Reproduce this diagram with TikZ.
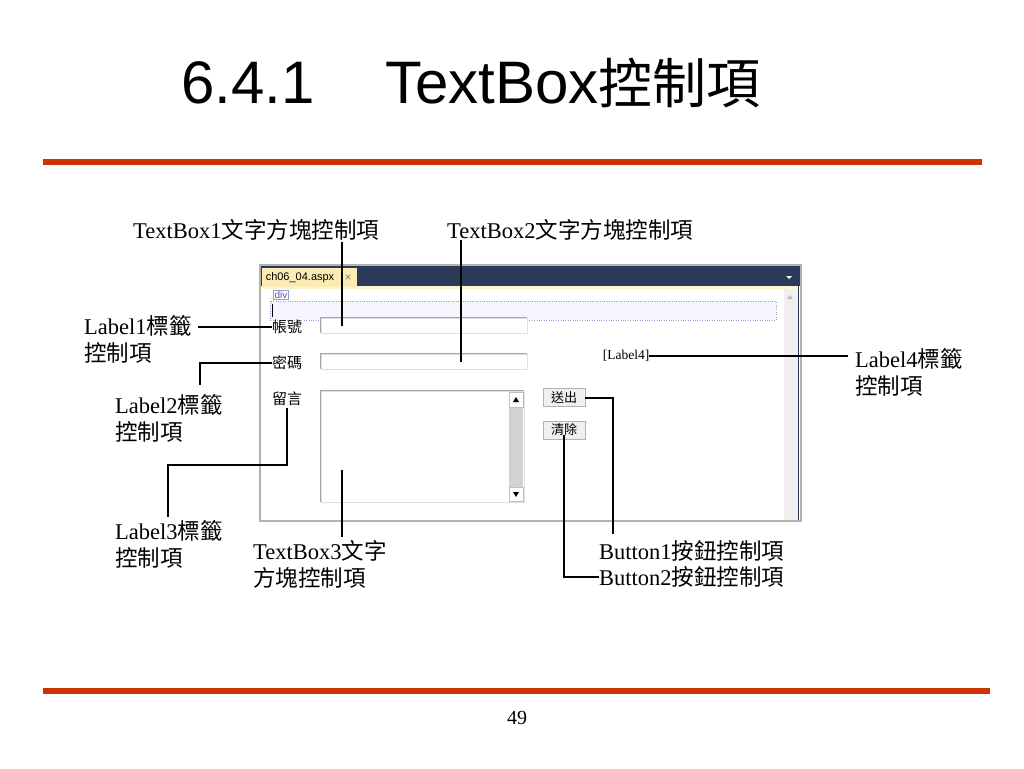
\documentclass[tikz,border=0pt]{standalone}
\usepackage{fontspec}
\usepackage{tikz}
\setmainfont{Liberation Serif}
\newfontfamily\hei{Liberation Sans}
\newfontfamily\cjk{Noto Sans CJK TC}
\newfontfamily\cjkt[Scale=0.9]{Noto Sans CJK TC}
\newcommand\zh[1]{{\cjk #1}}
\definecolor{slidered}{RGB}{204,51,0}
\definecolor{vsnavy}{RGB}{43,58,88}
\definecolor{tabyellow}{RGB}{252,236,180}
\definecolor{divblue}{RGB}{140,160,215}

\begin{document}
\begin{tikzpicture}[x=1pt,y=-1pt,
  callout/.style={font=\fontsize{22.5}{27}\selectfont, inner sep=0pt, align=left, anchor=north west},
  link/.style={line width=2pt},
  uitext/.style={font=\cjk\fontsize{15}{15}\selectfont, inner sep=0pt},
  field/.style={draw=gray!25, fill=white, inner sep=0pt},
  btn/.style={draw=gray!60, fill=gray!12, minimum width=42pt, minimum height=18pt, inner sep=0pt, font=\cjk\fontsize{13}{13}\selectfont}]
\useasboundingbox (0,0) rectangle (1024,768);

% title and rules
\node[anchor=base west, font=\hei\fontsize{60}{60}\selectfont, inner sep=0pt] (num) at (181,103) {6.4.1};
\node[anchor=base west, font=\hei\fontsize{60}{60}\selectfont, inner sep=0pt] (title) at (385,103) {TextBox{\cjkt 控制項}};
\fill[slidered] (43,159) rectangle (982,165);
\fill[slidered] (43,688) rectangle (990,694);
\node[font=\fontsize{20}{20}\selectfont] (page) at (517,718) {49};

% window
\fill[white] (261,266) rectangle (800,520);
\fill[vsnavy] (261,265) rectangle (800,286);
\fill[tabyellow!60] (261,286) rectangle (798,289);
\fill[gray!12] (784,289) rectangle (798,520);
\draw[gray!60, line width=1.5pt] (260,265) rectangle (801,521);
\draw[vsnavy, line width=1.5pt] (798.5,286) -- (798.5,520);
\fill[tabyellow] (262,268) rectangle (357,287);
\node[font=\hei\fontsize{11}{11}\selectfont, inner sep=0pt] (tab) at (300,278) {ch06\_04.aspx};
\node[font=\hei\fontsize{12}{12}\selectfont, text=gray, inner sep=0pt] (tabx) at (348,278) {×};
\fill[white] (786,276) -- (792,276) -- (789,279) -- cycle;
\fill[gray!50] (787,299) -- (793,299) -- (790,295) -- cycle;
\node[draw=divblue, fill=white, font=\hei\fontsize{10}{10}\selectfont, text=gray!70!blue, inner sep=1pt] (div) at (281,295) {div};
\draw[divblue, dotted, fill=blue!4] (270,301) rectangle (776,320);
\draw (272.5,304) -- (272.5,317);

% form
\node[uitext] (zh1) at (287,327) {帳號};
\node[uitext] (zh2) at (287,363) {密碼};
\node[uitext] (zh3) at (287,399) {留言};
\node[field, minimum width=206pt, minimum height=15pt] (tbx1) at (424,325.5) {};
\draw[gray!70, line width=1.2pt] (tbx1.south west) |- (tbx1.north east);
\node[field, minimum width=206pt, minimum height=15pt] (tbx2) at (424,361.5) {};
\draw[gray!70, line width=1.2pt] (tbx2.south west) |- (tbx2.north east);
\node[field, minimum width=203pt, minimum height=111pt] (tbx3) at (422.5,446.5) {};
\draw[gray!70, line width=1.2pt] (tbx3.south west) |- (tbx3.north east);
\fill[gray!35] (509,407) rectangle (523,487);
\draw[gray!50, fill=white] (509,392) rectangle (523,407);
\draw[gray!50, fill=white] (509,487) rectangle (523,501);
\fill (513,402) -- (519,402) -- (516,397) -- cycle;
\fill (513,492) -- (519,492) -- (516,497) -- cycle;
\node[btn] (btn1) at (564,397.5) {送出};
\node[btn] (btn2) at (564,430) {清除};
\node[font=\fontsize{13.5}{13.5}\selectfont, inner sep=0pt] (lbl4) at (626,356) {[Label4]};

% callouts
\node[callout] (lab1) at (84,315) {Label1\zh{標籤}\\\zh{控制項}};
\node[callout] (lab2) at (115,394) {Label2\zh{標籤}\\\zh{控制項}};
\node[callout] (lab3) at (115,520) {Label3\zh{標籤}\\\zh{控制項}};
\node[callout] (lab4) at (855,348) {Label4\zh{標籤}\\\zh{控制項}};
\node[callout] (tb1lab) at (133,219) {TextBox1\zh{文字方塊控制項}};
\node[callout] (tb2lab) at (447,219) {TextBox2\zh{文字方塊控制項}};
\node[callout] (tb3lab) at (253,540) {TextBox3\zh{文字}\\\zh{方塊控制項}};
\node[callout] (b1lab) at (599,540) {Button1\zh{按鈕控制項}};
\node[callout] (b2lab) at (599,566) {Button2\zh{按鈕控制項}};

% connectors
\coordinate (c1) at (198,327);
\coordinate (c2) at (200,385);
\coordinate (c3) at (168,517);
\coordinate (c4) at (342,242);
\coordinate (c5) at (461,240);
\coordinate (c6) at (342,537);
\coordinate (c7) at (848,356);
\coordinate (c8) at (613,534);
\draw[link] (zh1.west) -- (c1);
\draw[link] (zh2.west) -| (c2);
\draw[link] ([yshift=-2pt]zh3.south) -- ++(0,57) -| (c3);
\draw[link] (c4) -- (c4 |- tbx1.center);
\draw[link] (c5) -- (c5 |- tbx2.center);
\draw[link] (c6) -- ++(0,-67);
\draw[link] (lbl4.east) -- (c7);
\draw[link] (btn1.east) -| (c8);
\draw[link] ([yshift=-5pt]btn2.center) |- (b2lab.west);
\end{tikzpicture}
\end{document}
